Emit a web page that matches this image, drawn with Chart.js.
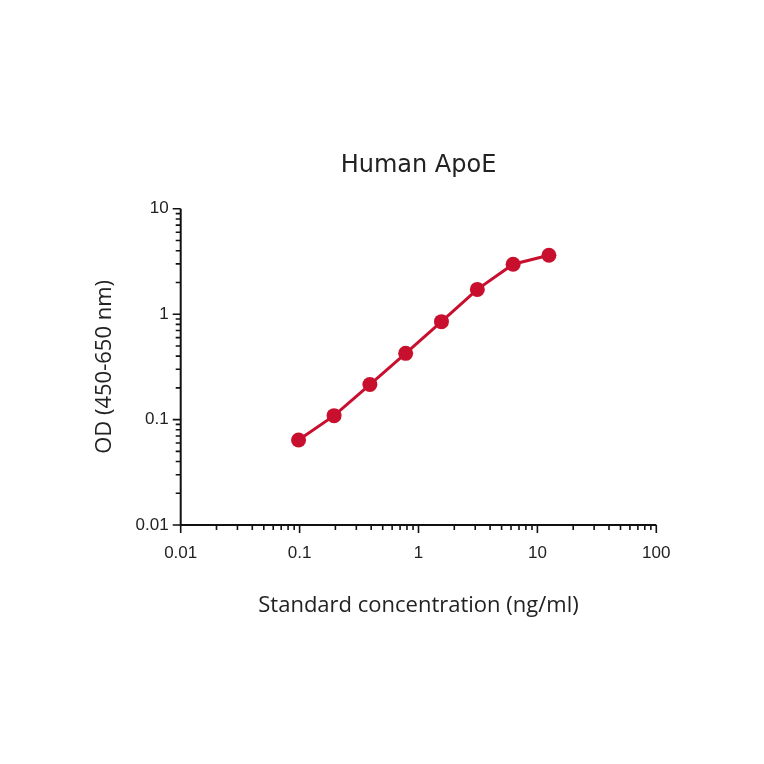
<!DOCTYPE html>
<html>
<head>
<meta charset="utf-8">
<script src="https://cdn.jsdelivr.net/npm/chart.js@4"></script>
<style>
  html, body { margin: 0; padding: 0; background: #fff; }
  #wrap { width: 764px; height: 764px; }
</style>
</head>
<body>
<div id="wrap"><canvas id="chart" width="764" height="764"></canvas></div>
<script>
const concentrations = [0.098, 0.195, 0.39, 0.78, 1.56, 3.125, 6.25, 12.5];
const odValues = [0.064, 0.109, 0.215, 0.425, 0.85, 1.72, 2.98, 3.62];

const xTickValues = [0.01, 0.1, 1, 10, 100];
const xTickLabels = ["0.01", "0.1", "1", "10", "100"];
const yTickValues = [0.01, 0.1, 1, 10];
const yTickLabels = ["0.01", "0.1", "1", "10"];

const red = "#c8102e";

// axis lines plus major/minor tick marks, placed by the scales
const logTicks = {
  id: "logTicks",
  afterDraw(chart) {
    const { ctx, scales } = chart;
    const x = scales.x, y = scales.y;
    ctx.save();
    ctx.strokeStyle = "#111";
    ctx.lineWidth = 2;
    ctx.beginPath();
    ctx.moveTo(x.left, y.top);
    ctx.lineTo(x.left, y.bottom);
    ctx.lineTo(x.right, y.bottom);
    ctx.stroke();
    ctx.lineWidth = 1.6;
    ctx.beginPath();
    for (let i = 0; i < xTickValues.length; i++) {
      const d = xTickValues[i];
      const px = x.getPixelForValue(d);
      ctx.moveTo(px, y.bottom);
      ctx.lineTo(px, y.bottom + 8);
      if (i < xTickValues.length - 1) {
        for (let m = 2; m <= 9; m++) {
          const mx = x.getPixelForValue(d * m);
          ctx.moveTo(mx, y.bottom);
          ctx.lineTo(mx, y.bottom + 5);
        }
      }
    }
    for (let i = 0; i < yTickValues.length; i++) {
      const d = yTickValues[i];
      const py = y.getPixelForValue(d);
      ctx.moveTo(x.left, py);
      ctx.lineTo(x.left - 8, py);
      if (i < yTickValues.length - 1) {
        for (let m = 2; m <= 9; m++) {
          const my = y.getPixelForValue(d * m);
          ctx.moveTo(x.left, my);
          ctx.lineTo(x.left - 5, my);
        }
      }
    }
    ctx.stroke();
    ctx.restore();
  },
};

function labelFor(values, labels) {
  return (v) => {
    const i = values.findIndex((t) => Math.abs(Math.log10(t) - Math.log10(v)) < 1e-6);
    return i >= 0 ? labels[i] : "";
  };
}

new Chart(document.getElementById("chart"), {
  type: "scatter",
  data: {
    datasets: [
      {
        data: concentrations.map((c, i) => ({ x: c, y: odValues[i] })),
        showLine: true,
        borderColor: red,
        backgroundColor: red,
        borderWidth: 3,
        pointRadius: 7.5,
        pointHoverRadius: 7.5,
        pointBorderWidth: 0,
      },
    ],
  },
  options: {
    responsive: false,
    animation: false,
    devicePixelRatio: 1,
    layout: { padding: { left: 0, right: 107.7, top: 0, bottom: 0 } },
    plugins: {
      legend: { display: false },
      tooltip: { enabled: false },
      title: {
        display: true,
        text: "Human ApoE",
        fullSize: false,
        color: "#222",
        font: { family: "DejaVu Sans", size: 24, weight: "normal" },
        padding: { top: 151, bottom: 29 },
      },
    },
    scales: {
      x: {
        type: "logarithmic",
        min: 0.01,
        max: 100,
        afterBuildTicks: (s) => { s.ticks = xTickValues.map((v) => ({ value: v })); },
        afterFit: (s) => { s.height = 239; },
        grid: { display: false, drawTicks: false },
        border: { display: false },
        ticks: {
          autoSkip: false,
          maxRotation: 0,
          padding: 18,
          color: "#222",
          font: { family: "Liberation Sans", size: 17 },
          callback: labelFor(xTickValues, xTickLabels),
        },
        title: {
          display: true,
          text: "Standard concentration (ng/ml)",
          color: "#222",
          font: { family: "Open Sans", size: 22 },
          padding: { top: 0, bottom: 145 },
        },
      },
      y: {
        type: "logarithmic",
        min: 0.01,
        max: 10,
        afterBuildTicks: (s) => { s.ticks = yTickValues.map((v) => ({ value: v })); },
        afterFit: (s) => { s.width = 180.7; },
        grid: { display: false, drawTicks: false },
        border: { display: false },
        ticks: {
          autoSkip: false,
          padding: 12,
          color: "#222",
          font: { family: "Liberation Sans", size: 17 },
          callback: labelFor(yTickValues, yTickLabels),
        },
        title: {
          display: true,
          text: "OD (450-650 nm)",
          color: "#222",
          font: { family: "Open Sans", size: 22 },
          padding: { top: 92, bottom: 0 },
        },
      },
    },
  },
  plugins: [logTicks],
});
</script>
</body>
</html>
